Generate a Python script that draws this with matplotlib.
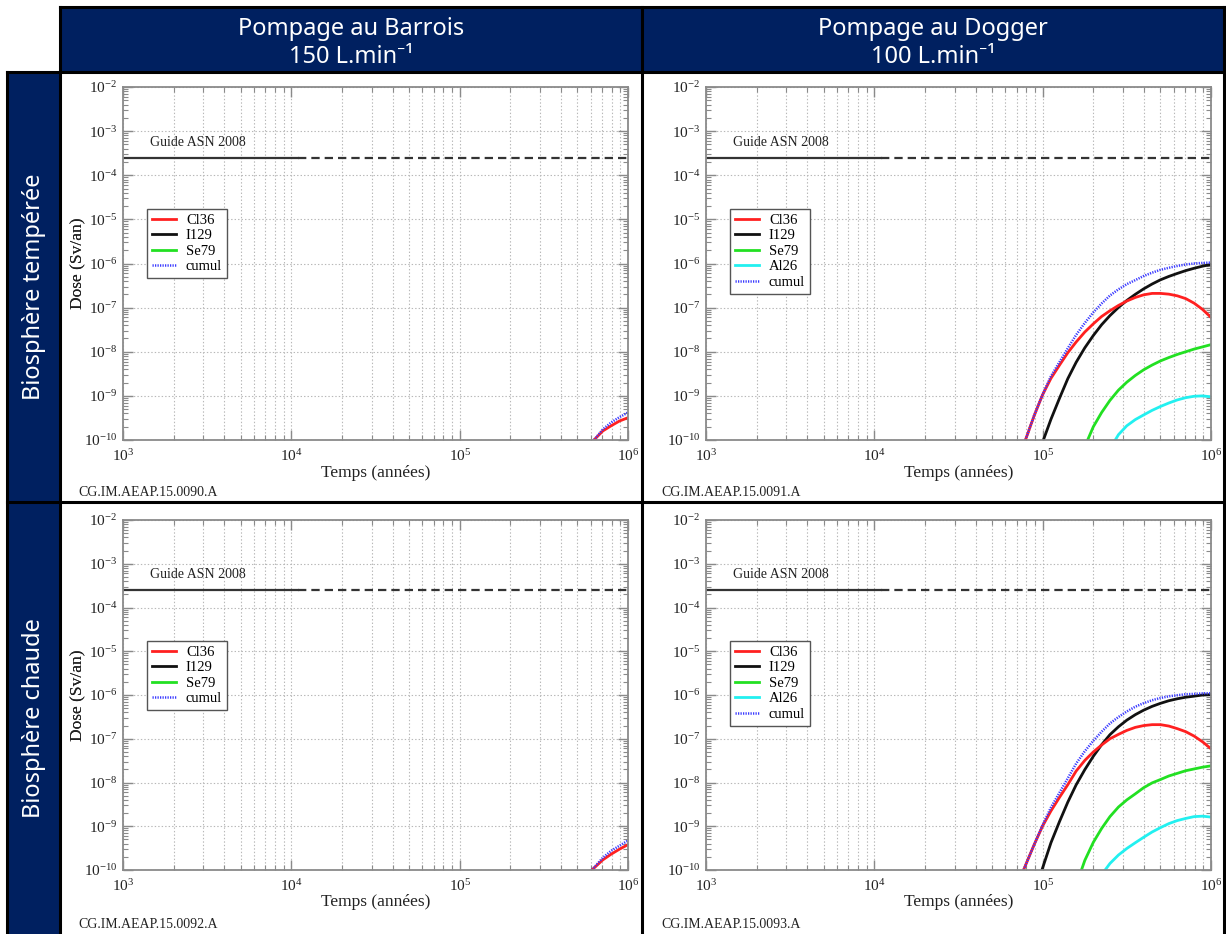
import matplotlib
matplotlib.use("Agg")
import matplotlib.pyplot as plt
from matplotlib.ticker import LogLocator, NullFormatter, FixedLocator
from matplotlib.lines import Line2D
from matplotlib.patches import Rectangle

plt.rcParams["font.family"] = ["Liberation Serif", "DejaVu Serif"]
plt.rcParams["mathtext.fontset"] = "custom"
plt.rcParams["mathtext.rm"] = "Liberation Serif"
plt.rcParams["mathtext.it"] = "Liberation Serif:italic"
plt.rcParams["lines.scale_dashes"] = False

# ---------------------------------------------------------------- data
COL_TITLES = ["Pompage au Barrois\n150 L.min\u207b\u00b9", "Pompage au Dogger\n100 L.min\u207b\u00b9"]
ROW_TITLES = ["Biosph\u00e8re temp\u00e9r\u00e9e", "Biosph\u00e8re chaude"]
FIG_CODES = ["CG.IM.AEAP.15.0090.A", "CG.IM.AEAP.15.0091.A",
             "CG.IM.AEAP.15.0092.A", "CG.IM.AEAP.15.0093.A"]

GUIDE_LABEL = "Guide ASN 2008"
GUIDE_LEVEL = 2.5e-4          # Sv/an
GUIDE_SOLID_END = 1.1e4       # years
T_MIN, T_MAX = 1e3, 1e6
D_MIN, D_MAX = 1e-10, 1e-2
X_TICKS = [1e3, 1e4, 1e5, 1e6]
Y_TICKS = [1e-10, 1e-9, 1e-8, 1e-7, 1e-6, 1e-5, 1e-4, 1e-3, 1e-2]

# sampling times (years)
T_GRID = [1.12e5, 1.26e5, 1.41e5, 1.58e5, 1.78e5, 2.0e5, 2.24e5, 2.51e5, 2.82e5, 3.16e5,
          3.55e5, 3.98e5, 4.47e5, 5.01e5, 5.62e5, 6.31e5, 7.08e5, 7.94e5, 8.91e5, 1.0e6]
T_LATE = [7.08e5, 7.94e5, 8.91e5, 1.0e6]

# Barrois, biosphere temperee
tl_t_cl36 = [6.28e5] + T_LATE
tl_d_cl36 = [1.0e-10, 1.6e-10, 2.1e-10, 2.7e-10, 3.2e-10]
tl_t_cum = [6.28e5] + T_LATE
tl_d_cum = [1.0e-10, 1.74e-10, 2.5e-10, 3.3e-10, 4.2e-10]

# Dogger, biosphere temperee
tr_t_cl36 = [7.9e4, 8.9e4, 1.0e5] + T_GRID
tr_d_cl36 = [1.0e-10, 3.55e-10, 1.07e-9,
             2.5e-9, 5.0e-9, 9.5e-9, 1.66e-8, 2.8e-8, 4.3e-8, 6.3e-8, 8.5e-8, 1.12e-7, 1.41e-7,
             1.7e-7, 1.95e-7, 2.1e-7, 2.1e-7, 2.02e-7, 1.85e-7, 1.6e-7, 1.26e-7, 9.1e-8, 6.0e-8]
tr_t_i129 = [1.01e5] + T_GRID
tr_d_i129 = [1.0e-10,
             2.95e-10, 8.9e-10, 2.45e-9, 5.75e-9, 1.23e-8, 2.34e-8, 4.1e-8, 6.6e-8, 1.01e-7, 1.45e-7,
             2.0e-7, 2.66e-7, 3.43e-7, 4.27e-7, 5.1e-7, 5.96e-7, 6.9e-7, 7.8e-7, 8.7e-7, 9.5e-7]
tr_t_se79 = [1.85e5] + T_GRID[5:]
tr_d_se79 = [1.0e-10,
             2.0e-10, 4.2e-10, 7.9e-10, 1.35e-9, 2.04e-9, 2.9e-9, 3.9e-9, 5.0e-9, 6.2e-9, 7.4e-9,
             8.7e-9, 1.0e-8, 1.15e-8, 1.29e-8, 1.45e-8]
tr_t_al26 = [2.7e5] + T_GRID[8:]
tr_d_al26 = [1.0e-10,
             1.32e-10, 2.1e-10, 2.9e-10, 3.7e-10, 4.7e-10, 5.75e-10, 6.9e-10, 8.1e-10, 9.1e-10,
             9.8e-10, 1.0e-9, 9.5e-10]
tr_t_cum = [7.9e4, 8.9e4, 1.0e5] + T_GRID
tr_d_cum = [1.0e-10, 3.6e-10, 1.08e-9,
            2.8e-9, 5.9e-9, 1.2e-8, 2.4e-8, 4.5e-8, 7.8e-8, 1.24e-7, 1.88e-7, 2.6e-7, 3.4e-7,
            4.2e-7, 5.2e-7, 6.2e-7, 7.2e-7, 8.0e-7, 8.8e-7, 9.5e-7, 1.0e-6, 1.03e-6, 1.05e-6]

# Barrois, biosphere chaude
bl_t_cl36 = [6.1e5] + T_LATE
bl_d_cl36 = [1.0e-10, 1.7e-10, 2.3e-10, 3.0e-10, 3.8e-10]
bl_t_cum = [6.1e5] + T_LATE
bl_d_cum = [1.0e-10, 1.9e-10, 2.75e-10, 3.6e-10, 4.7e-10]

# Dogger, biosphere chaude
br_t_cl36 = [7.7e4, 8.9e4, 1.0e5] + T_GRID
br_d_cl36 = [1.0e-10, 3.8e-10, 1.02e-9,
             2.24e-9, 4.6e-9, 8.9e-9, 1.82e-8, 3.2e-8, 5.0e-8, 7.2e-8, 1.0e-7, 1.26e-7, 1.55e-7,
             1.82e-7, 2.0e-7, 2.1e-7, 2.1e-7, 1.95e-7, 1.7e-7, 1.45e-7, 1.15e-7, 8.5e-8, 5.9e-8]
br_t_i129 = [9.9e4] + T_GRID
br_d_i129 = [1.0e-10,
             4.2e-10, 1.29e-9, 3.55e-9, 8.8e-9, 1.97e-8, 3.98e-8, 7.3e-8, 1.24e-7, 1.88e-7, 2.66e-7,
             3.55e-7, 4.5e-7, 5.5e-7, 6.45e-7, 7.4e-7, 8.2e-7, 8.9e-7, 9.4e-7, 1.0e-6, 1.02e-6]
br_t_se79 = [1.7e5] + T_GRID[4:]
br_d_se79 = [1.0e-10,
             1.66e-10, 4.3e-10, 8.9e-10, 1.66e-9, 2.75e-9, 4.0e-9, 5.5e-9, 7.6e-9, 9.8e-9,
             1.17e-8, 1.41e-8, 1.62e-8, 1.86e-8, 2.04e-8, 2.24e-8, 2.4e-8]
br_t_al26 = [2.35e5] + T_GRID[7:]
br_d_al26 = [1.0e-10,
             1.41e-10, 2.2e-10, 3.1e-10, 4.2e-10, 5.6e-10, 7.4e-10, 9.3e-10, 1.15e-9, 1.35e-9,
             1.51e-9, 1.66e-9, 1.7e-9, 1.62e-9]
br_t_cum = [7.7e4, 8.9e4, 1.0e5] + T_GRID
br_d_cum = [1.0e-10, 3.8e-10, 1.07e-9,
            2.7e-9, 5.9e-9, 1.25e-8, 2.7e-8, 5.2e-8, 9.0e-8, 1.45e-7, 2.24e-7, 3.14e-7, 4.2e-7,
            5.4e-7, 6.5e-7, 7.6e-7, 8.55e-7, 9.35e-7, 9.9e-7, 1.04e-6, 1.06e-6, 1.09e-6, 1.1e-6]

# ---------------------------------------------------------------- styles
STYLE = {
    "Cl36": dict(color="#ff2020", lw=2.0, ls="-"),
    "I129": dict(color="#111111", lw=2.0, ls="-"),
    "Se79": dict(color="#22e022", lw=2.0, ls="-"),
    "Al26": dict(color="#22f0f0", lw=2.0, ls="-"),
    "cumul": dict(color="#3a3aff", lw=1.8, ls=(0, (0.9, 0.9))),
}

panels = [
    dict(box=(123, 87, 628, 440), code=FIG_CODES[0], xlab_y=465, code_y=492,
         names=["Cl36", "I129", "Se79", "cumul"],
         series={"Cl36": (tl_t_cl36, tl_d_cl36), "cumul": (tl_t_cum, tl_d_cum)}),
    dict(box=(706, 87, 1211, 440), code=FIG_CODES[1], xlab_y=465, code_y=492,
         names=["Cl36", "I129", "Se79", "Al26", "cumul"],
         series={"Se79": (tr_t_se79, tr_d_se79), "Al26": (tr_t_al26, tr_d_al26),
                 "I129": (tr_t_i129, tr_d_i129), "Cl36": (tr_t_cl36, tr_d_cl36),
                 "cumul": (tr_t_cum, tr_d_cum)}),
    dict(box=(123, 520, 628, 870), code=FIG_CODES[2], xlab_y=894, code_y=924,
         names=["Cl36", "I129", "Se79", "cumul"],
         series={"Cl36": (bl_t_cl36, bl_d_cl36), "cumul": (bl_t_cum, bl_d_cum)}),
    dict(box=(706, 520, 1211, 870), code=FIG_CODES[3], xlab_y=894, code_y=924,
         names=["Cl36", "I129", "Se79", "Al26", "cumul"],
         series={"Se79": (br_t_se79, br_d_se79), "Al26": (br_t_al26, br_d_al26),
                 "I129": (br_t_i129, br_d_i129), "Cl36": (br_t_cl36, br_d_cl36),
                 "cumul": (br_t_cum, br_d_cum)}),
]

# ---------------------------------------------------------------- figure
W, H = 1226, 934
fig = plt.figure(figsize=(W / 100, H / 100), dpi=100)
NAVY = "#002060"


def fx(x):
    return x / W


def fy(y):
    return 1 - y / H


def rect(x0, y0, x1, y1, color):
    fig.add_artist(Rectangle((fx(x0), fy(y1)), fx(x1) - fx(x0), fy(y0) - fy(y1),
                             transform=fig.transFigure, facecolor=color,
                             edgecolor="none", zorder=0))


def hline(y, x0, x1):
    fig.add_artist(Line2D([fx(x0), fx(x1)], [fy(y), fy(y)], transform=fig.transFigure,
                          color="black", lw=2.2, zorder=5, solid_capstyle="projecting"))


def vline(x, y0, y1):
    fig.add_artist(Line2D([fx(x), fx(x)], [fy(y0), fy(y1)], transform=fig.transFigure,
                          color="black", lw=2.2, zorder=5, solid_capstyle="projecting"))


# table cells
rect(60, 7, 1224, 72, NAVY)
rect(7, 72, 60, 934, NAVY)
hline(7, 60, 1224)
hline(72, 7, 1224)
hline(502, 7, 1224)
vline(7, 72, 934)
vline(60, 7, 934)
vline(642, 7, 934)
vline(1224, 7, 934)

head_font = ["Noto Sans", "DejaVu Sans"]
for title, xc in zip(COL_TITLES, [351, 933]):
    fig.text(fx(xc), fy(43), title, color="white", ha="center", va="center",
             fontsize=17, family=head_font, linespacing=1.25)
for title, yc in zip(ROW_TITLES, [287, 718]):
    fig.text(fx(34), fy(yc), title, color="white", ha="center", va="center",
             rotation=90, fontsize=17, family=head_font, fontweight="bold")

SPINE = "#8a8a8a"
for p in panels:
    x0, y0, x1, y1 = p["box"]
    ax = fig.add_axes([fx(x0), fy(y1), fx(x1) - fx(x0), fy(y0) - fy(y1)])
    ax.set_xscale("log")
    ax.set_yscale("log")
    ax.set_xlim(T_MIN, T_MAX)
    ax.set_ylim(D_MIN, D_MAX)

    ax.xaxis.set_major_locator(FixedLocator(X_TICKS))
    ax.yaxis.set_major_locator(FixedLocator(Y_TICKS))
    ax.xaxis.set_minor_locator(LogLocator(base=10, subs=range(2, 10), numticks=30))
    ax.yaxis.set_minor_locator(LogLocator(base=10, subs=range(2, 10), numticks=40))
    ax.xaxis.set_minor_formatter(NullFormatter())
    ax.yaxis.set_minor_formatter(NullFormatter())

    ax.tick_params(which="both", direction="in", top=True, right=True,
                   color=SPINE, labelsize=11, labelcolor="#222222")
    ax.tick_params(which="major", length=7, width=1.0)
    ax.tick_params(axis="x", which="major", pad=6)
    ax.tick_params(axis="y", which="major", pad=4)
    ax.tick_params(which="minor", length=3.5, width=0.8)
    for s in ax.spines.values():
        s.set_color(SPINE)
        s.set_linewidth(1.3)

    ax.grid(True, which="major", axis="both", ls=(0, (1, 1.5)), color="#b8b8b8", lw=0.8)
    ax.grid(True, which="minor", axis="x", ls=(0, (1, 1.5)), color="#b8b8b8", lw=0.8)
    ax.set_axisbelow(True)

    ax.set_xlabel("Temps (ann\u00e9es)", fontsize=12.5, color="#222222")
    ax.set_ylabel("Dose (Sv/an)", fontsize=12.5, color="#222222")
    ax.xaxis.set_label_coords(0.5, -(p["xlab_y"] - y1) / (y1 - y0))
    ax.yaxis.set_label_coords(-(x0 - 86) / (x1 - x0), 0.5)

    # regulatory guide level
    ax.plot([T_MIN, GUIDE_SOLID_END], [GUIDE_LEVEL, GUIDE_LEVEL], color="#333333", lw=1.6)
    ax.plot([GUIDE_SOLID_END, T_MAX], [GUIDE_LEVEL, GUIDE_LEVEL], color="#333333", lw=1.6,
            dashes=(6, 3.6))
    ax.text(1.45e3, 5.6e-4, GUIDE_LABEL, fontsize=10, color="#222222", va="center")

    for name in ["Se79", "Al26", "I129", "Cl36", "cumul"]:
        if name in p["series"]:
            t, d = p["series"][name]
            ax.plot(t, d, clip_on=True, **STYLE[name])

    handles = [Line2D([], [], **STYLE[n]) for n in p["names"]]
    ax.legend(handles, p["names"], loc="upper left", bbox_to_anchor=(0.048, 0.655),
              fontsize=10.5, frameon=True, fancybox=False, edgecolor="#555555",
              framealpha=1, borderpad=0.35, labelspacing=0.15, handlelength=1.6,
              handletextpad=0.7, borderaxespad=0)

    fig.text(fx(x0 - 45), fy(p["code_y"]), p["code"], fontsize=10, color="#222222",
             ha="left", va="center")

fig.savefig("out.png", dpi=100, facecolor="white")
